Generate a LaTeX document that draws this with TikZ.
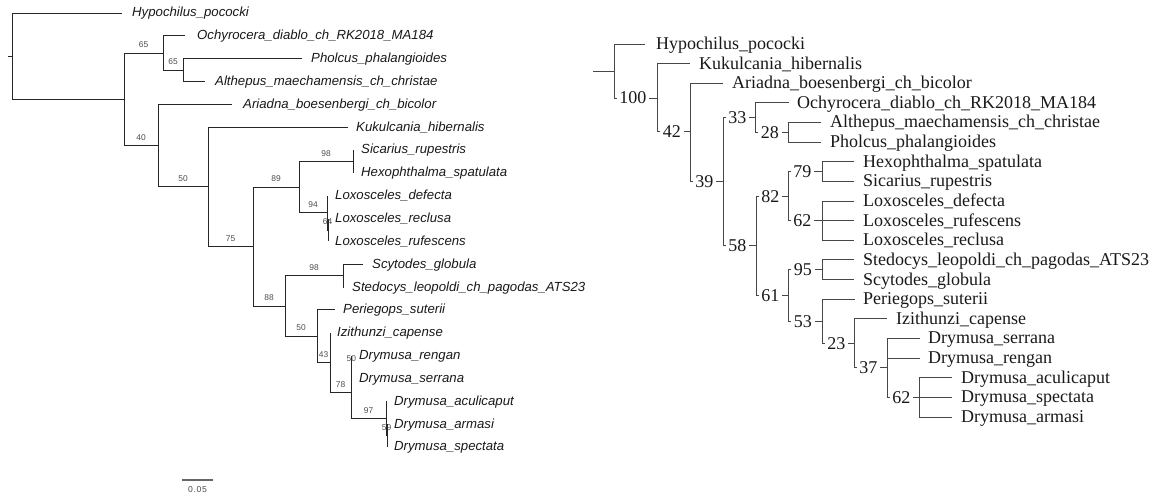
\documentclass[tikz,border=0pt]{standalone}
\usepackage{fontspec}
\setmainfont{Liberation Serif}
\newfontfamily\arialfont{Liberation Sans}
\newfontfamily\scalefont[LetterSpace=8]{Liberation Sans}
\begin{document}
\begin{tikzpicture}[x=1pt,y=-1pt,
  lbr/.style={draw=black!85, line width=0.9pt},
  lleaf/.style={anchor=west, inner sep=0pt, font=\arialfont\itshape\fontsize{13.2}{15}\selectfont, text height=7.9pt, text depth=0pt, text=black!90},
  lboot/.style={font=\arialfont\fontsize{8.4}{9}\selectfont, text=black!70, inner sep=1pt, anchor=south, yshift=3.8pt},
  rbr/.style={draw=black!72, line width=0.95pt},
  rleaf/.style={anchor=west, inner sep=0pt, font=\fontsize{18}{20}\selectfont, text height=10.8pt, text depth=0pt, text=black!90},
  rlab/.style={anchor=west, fill=white, inner xsep=2.6pt, inner ysep=0.5pt, font=\fontsize{18}{20}\selectfont, text height=11.9pt, text depth=0pt, text=black!90, xshift=2.4pt},
]
\useasboundingbox (0,0) rectangle (1158,496);

% ================= LEFT TREE (phylogram) =================
\coordinate (Lstub) at (8,56.2);
\coordinate (Lroot) at (12,56.2);
\coordinate (LC) at (124,99.3);
\coordinate (LA) at (163,53.0);
\coordinate (LB) at (183,70.1);
\coordinate (LD) at (158,145.6);
\coordinate (LE) at (208,186.9);
\coordinate (LF) at (253,246.6);
\coordinate (LG) at (299,187.2);
\coordinate (LI) at (353,161.5);
\coordinate (LJ) at (327,212.8);
\coordinate (LK) at (328,230.0);
\coordinate (LH) at (285,306.0);
\coordinate (LL) at (343,275.7);
\coordinate (LM) at (317,336.3);
\coordinate (LN) at (330,362.8);
\coordinate (LO) at (351,392.7);
\coordinate (LP) at (351.5,367.0);
\coordinate (LQ) at (386,418.4);
\coordinate (LR) at (387,435.5);

\coordinate (LtHyp) at (122,13);     \node[lleaf] (LHyp) at (132,13) {Hypochilus\_pococki};
\coordinate (LtOch) at (185,35.8);   \node[lleaf] (LOch) at (197,35.8) {Ochyrocera\_diablo\_ch\_RK2018\_MA184};
\coordinate (LtPho) at (302,58.7);   \node[lleaf] (LPho) at (311,58.7) {Pholcus\_phalangioides};
\coordinate (LtAlt) at (205,81.5);   \node[lleaf] (LAlt) at (215,81.5) {Althepus\_maechamensis\_ch\_christae};
\coordinate (LtAri) at (232,104.4);  \node[lleaf] (LAri) at (243,104.4) {Ariadna\_boesenbergi\_ch\_bicolor};
\coordinate (LtKuk) at (348,127.2);  \node[lleaf] (LKuk) at (356,127.2) {Kukulcania\_hibernalis};
\coordinate (LtSic) at (353,150.0);  \node[lleaf] (LSic) at (361,150.0) {Sicarius\_rupestris};
\coordinate (LtHex) at (353,172.9);  \node[lleaf] (LHex) at (361,172.9) {Hexophthalma\_spatulata};
\coordinate (LtLdef) at (327,195.7); \node[lleaf] (LLdef) at (335,195.7) {Loxosceles\_defecta};
\coordinate (LtLrec) at (328,218.6); \node[lleaf] (LLrec) at (335,218.6) {Loxosceles\_reclusa};
\coordinate (LtLruf) at (328,241.4); \node[lleaf] (LLruf) at (335,241.4) {Loxosceles\_rufescens};
\coordinate (LtScy) at (363,264.2);  \node[lleaf] (LScy) at (372,264.2) {Scytodes\_globula};
\coordinate (LtSte) at (344,287.1);  \node[lleaf] (LSte) at (352,287.1) {Stedocys\_leopoldi\_ch\_pagodas\_ATS23};
\coordinate (LtPer) at (335,309.9);  \node[lleaf] (LPer) at (343,309.9) {Periegops\_suterii};
\coordinate (LtIzi) at (330,332.8);  \node[lleaf] (LIzi) at (337,332.8) {Izithunzi\_capense};
\coordinate (LtDren) at (351.5,355.6); \node[lleaf] (LDren) at (359,355.6) {Drymusa\_rengan};
\coordinate (LtDser) at (351.5,378.4); \node[lleaf] (LDser) at (359,378.4) {Drymusa\_serrana};
\coordinate (LtDacu) at (386,401.3); \node[lleaf] (LDacu) at (394,401.3) {Drymusa\_aculicaput};
\coordinate (LtDarm) at (387,424.1); \node[lleaf] (LDarm) at (394,424.1) {Drymusa\_armasi};
\coordinate (LtDspe) at (387,447.0); \node[lleaf] (LDspe) at (394,447.0) {Drymusa\_spectata};

\draw[lbr] (Lstub) -- (Lroot);
\draw[lbr] (Lroot) |- (LtHyp);
\draw[lbr] (Lroot) |- (LC);
\draw[lbr] (LC) |- (LA) node[lboot,pos=0.75]{65};
\draw[lbr] (LA) |- (LtOch);
\draw[lbr] (LA) |- (LB) node[lboot,pos=0.75]{65};
\draw[lbr] (LB) |- (LtPho);
\draw[lbr] (LB) |- (LtAlt);
\draw[lbr] (LC) |- (LD) node[lboot,pos=0.75]{40};
\draw[lbr] (LD) |- (LtAri);
\draw[lbr] (LD) |- (LE) node[lboot,pos=0.75]{50};
\draw[lbr] (LE) |- (LtKuk);
\draw[lbr] (LE) |- (LF) node[lboot,pos=0.75]{75};
\draw[lbr] (LF) |- (LG) node[lboot,pos=0.75]{89};
\draw[lbr] (LG) |- (LI) node[lboot,pos=0.75]{98};
\draw[lbr] (LI) |- (LtSic);
\draw[lbr] (LI) |- (LtHex);
\draw[lbr] (LG) |- (LJ) node[lboot,pos=0.75]{94};
\draw[lbr] (LJ) |- (LtLdef);
\draw[lbr] (LJ) |- (LK) node[lboot,pos=0.75]{64};
\draw[lbr] (LK) |- (LtLrec);
\draw[lbr] (LK) |- (LtLruf);
\draw[lbr] (LF) |- (LH) node[lboot,pos=0.75]{88};
\draw[lbr] (LH) |- (LL) node[lboot,pos=0.75]{98};
\draw[lbr] (LL) |- (LtScy);
\draw[lbr] (LL) |- (LtSte);
\draw[lbr] (LH) |- (LM) node[lboot,pos=0.75]{50};
\draw[lbr] (LM) |- (LtPer);
\draw[lbr] (LM) |- (LN) node[lboot,pos=0.75]{43};
\draw[lbr] (LN) |- (LtIzi);
\draw[lbr] (LN) |- (LO) node[lboot,pos=0.75]{78};
\draw[lbr] (LO) |- (LP) node[lboot,pos=0.75]{50};
\draw[lbr] (LP) |- (LtDren);
\draw[lbr] (LP) |- (LtDser);
\draw[lbr] (LO) |- (LQ) node[lboot,pos=0.75]{97};
\draw[lbr] (LQ) |- (LtDacu);
\draw[lbr] (LQ) |- (LR) node[lboot,pos=0.75]{59};
\draw[lbr] (LR) |- (LtDarm);
\draw[lbr] (LR) |- (LtDspe);

% scale bar
\coordinate (SB1) at (182,480);
\coordinate (SB2) at (213,480);
\draw[draw=black!60, line width=1.2pt] (SB1) -- (SB2);
\node[font=\scalefont\fontsize{8.6}{10}\selectfont, text=black!70, inner sep=0pt] (SBt) at (197.5,490) {0.05};

% ================= RIGHT TREE (cladogram) =================
\coordinate (Rstub) at (593,71.0);
\coordinate (Rroot) at (614,71.0);
\coordinate (R100) at (657.5,98.0);
\coordinate (R42) at (690,131.5);
\coordinate (R39) at (723,181.7);
\coordinate (R33) at (755.5,117.6);
\coordinate (R28) at (788,132.3);
\coordinate (R58) at (756,245.8);
\coordinate (R82) at (788,196.1);
\coordinate (R79) at (822,171.6);
\coordinate (R62a) at (822,220.7);
\coordinate (R61) at (788.5,295.5);
\coordinate (R95) at (822,269.7);
\coordinate (R53) at (822,321.3);
\coordinate (R23) at (854,343.4);
\coordinate (R37) at (887,367.9);
\coordinate (R62b) at (919.5,397.3);

\coordinate (RtHyp) at (645,44.0);   \node[rleaf] (RHyp) at (656,44.0) {Hypochilus\_pococki};
\coordinate (RtKuk) at (690,63.6);   \node[rleaf] (RKuk) at (699,63.6) {Kukulcania\_hibernalis};
\coordinate (RtAri) at (723,83.3);   \node[rleaf] (RAri) at (732,83.3) {Ariadna\_boesenbergi\_ch\_bicolor};
\coordinate (RtOch) at (788.5,102.9); \node[rleaf] (ROch) at (797,102.9) {Ochyrocera\_diablo\_ch\_RK2018\_MA184};
\coordinate (RtAlt) at (821,122.5);  \node[rleaf] (RAlt) at (830,122.5) {Althepus\_maechamensis\_ch\_christae};
\coordinate (RtPho) at (821,142.2);  \node[rleaf] (RPho) at (830,142.2) {Pholcus\_phalangioides};
\coordinate (RtHex) at (854,161.8);  \node[rleaf] (RHex) at (863,161.8) {Hexophthalma\_spatulata};
\coordinate (RtSic) at (854,181.4);  \node[rleaf] (RSic) at (863,181.4) {Sicarius\_rupestris};
\coordinate (RtLdef) at (854,201.0); \node[rleaf] (RLdef) at (863,201.0) {Loxosceles\_defecta};
\coordinate (RtLruf) at (854,220.7); \node[rleaf] (RLruf) at (863,220.7) {Loxosceles\_rufescens};
\coordinate (RtLrec) at (854,240.3); \node[rleaf] (RLrec) at (863,240.3) {Loxosceles\_reclusa};
\coordinate (RtSte) at (854,259.9);  \node[rleaf] (RSte) at (863,259.9) {Stedocys\_leopoldi\_ch\_pagodas\_ATS23};
\coordinate (RtScy) at (854,279.6);  \node[rleaf] (RScy) at (863,279.6) {Scytodes\_globula};
\coordinate (RtPer) at (855,299.2);  \node[rleaf] (RPer) at (863,299.2) {Periegops\_suterii};
\coordinate (RtIzi) at (887,318.8);  \node[rleaf] (RIzi) at (896,318.8) {Izithunzi\_capense};
\coordinate (RtDser) at (920,338.5); \node[rleaf] (RDser) at (928,338.5) {Drymusa\_serrana};
\coordinate (RtDren) at (920,358.1); \node[rleaf] (RDren) at (928,358.1) {Drymusa\_rengan};
\coordinate (RtDacu) at (952,377.7); \node[rleaf] (RDacu) at (961,377.7) {Drymusa\_aculicaput};
\coordinate (RtDspe) at (952,397.3); \node[rleaf] (RDspe) at (961,397.3) {Drymusa\_spectata};
\coordinate (RtDarm) at (952,417.0); \node[rleaf] (RDarm) at (961,417.0) {Drymusa\_armasi};

\draw[rbr] (Rstub) -- (Rroot);
\draw[rbr] (Rroot) |- (RtHyp);
\draw[rbr] (Rroot) |- (R100) node[rlab,pos=0.5]{100};
\draw[rbr] (R100) |- (RtKuk);
\draw[rbr] (R100) |- (R42) node[rlab,pos=0.5]{42};
\draw[rbr] (R42) |- (RtAri);
\draw[rbr] (R42) |- (R39) node[rlab,pos=0.5]{39};
\draw[rbr] (R39) |- (R33) node[rlab,pos=0.5]{33};
\draw[rbr] (R33) |- (RtOch);
\draw[rbr] (R33) |- (R28) node[rlab,pos=0.5]{28};
\draw[rbr] (R28) |- (RtAlt);
\draw[rbr] (R28) |- (RtPho);
\draw[rbr] (R39) |- (R58) node[rlab,pos=0.5]{58};
\draw[rbr] (R58) |- (R82) node[rlab,pos=0.5]{82};
\draw[rbr] (R82) |- (R79) node[rlab,pos=0.5]{79};
\draw[rbr] (R79) |- (RtHex);
\draw[rbr] (R79) |- (RtSic);
\draw[rbr] (R82) |- (R62a) node[rlab,pos=0.5]{62};
\draw[rbr] (R62a) |- (RtLdef);
\draw[rbr] (R62a) |- (RtLruf);
\draw[rbr] (R62a) |- (RtLrec);
\draw[rbr] (R58) |- (R61) node[rlab,pos=0.5]{61};
\draw[rbr] (R61) |- (R95) node[rlab,pos=0.5]{95};
\draw[rbr] (R95) |- (RtSte);
\draw[rbr] (R95) |- (RtScy);
\draw[rbr] (R61) |- (R53) node[rlab,pos=0.5]{53};
\draw[rbr] (R53) |- (RtPer);
\draw[rbr] (R53) |- (R23) node[rlab,pos=0.5]{23};
\draw[rbr] (R23) |- (RtIzi);
\draw[rbr] (R23) |- (R37) node[rlab,pos=0.5]{37};
\draw[rbr] (R37) |- (RtDser);
\draw[rbr] (R37) |- (RtDren);
\draw[rbr] (R37) |- (R62b) node[rlab,pos=0.5]{62};
\draw[rbr] (R62b) |- (RtDacu);
\draw[rbr] (R62b) |- (RtDspe);
\draw[rbr] (R62b) |- (RtDarm);
\end{tikzpicture}
\end{document}
